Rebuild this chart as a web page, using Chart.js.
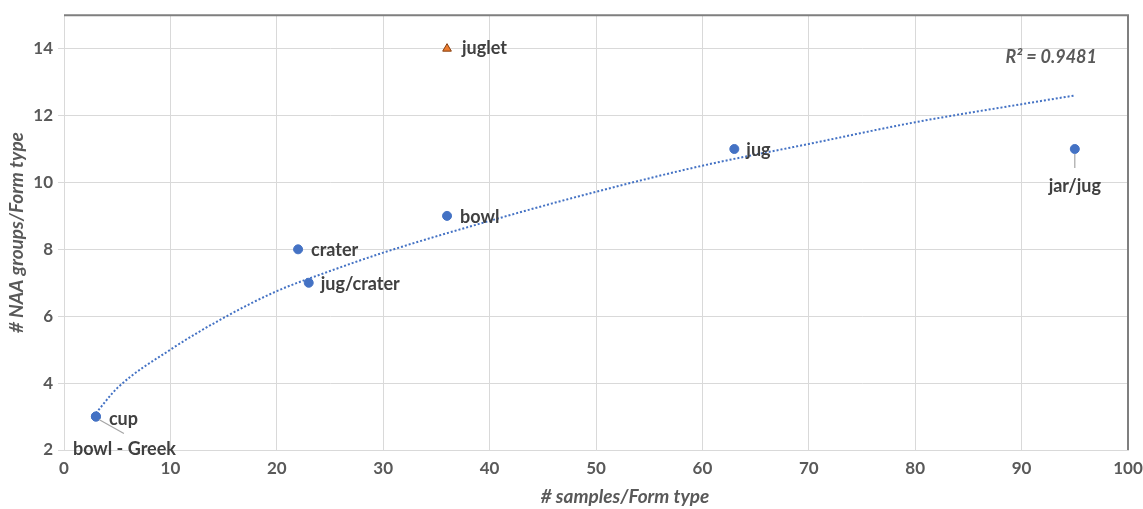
<!DOCTYPE html>
<html>
<head>
<meta charset="utf-8">
<script src="https://cdn.jsdelivr.net/npm/chart.js@4"></script>
<style>
  html, body { margin: 0; padding: 0; background: #fff; }
  #wrap { width: 1143px; height: 509px; }
</style>
</head>
<body>
<div id="wrap"><canvas id="chart"></canvas></div>
<script>
// ====== DATA ======
const formNames = ["cup", "bowl - Greek", "crater", "jug/crater", "bowl", "jug", "jar/jug"];
const samples   = [3, 3, 22, 23, 36, 63, 95];
const naaGroups = [3, 3, 8, 7, 9, 11, 11];

const outlierName = ["juglet"];
const outlierX = [36];
const outlierY = [14];

// trendline (power fit, dotted)
const trendX = [3, 5, 10, 15, 20, 25, 30, 40, 50, 60, 70, 80, 90, 95];
const trendY = [3.1, 3.85, 5.0, 5.95, 6.75, 7.35, 7.9, 8.85, 9.72, 10.5, 11.15, 11.8, 12.34, 12.6];
const rSquared = "R² = 0.9481";
const xTitle = "# samples/Form type";

const xTicks = [0, 10, 20, 30, 40, 50, 60, 70, 80, 90, 100];
const yTicks = [2, 4, 6, 8, 10, 12, 14];

// ====== STYLE ======
const FONT = "Lato, 'Open Sans', sans-serif";
const GRID = "#d9d9d9";
const TEXT = "#595959";
const LABEL = "#404040";
const BLUE = "#4472C4";

// label offsets: [dx, dy, align, leader line]
const placement = {
  "cup": [13, 3, "left"],
  "bowl - Greek": [-23, 33, "left", [3, 3, 28, 17]],
  "crater": [13, 1, "left"],
  "jug/crater": [12, 1, "left"],
  "bowl": [13, 1, "left"],
  "jug": [12, 1, "left"],
  "jar/jug": [0, 37, "center", [0, 5, 0, 19]],
  "juglet": [15, 0, "left"]
};

const labelPlugin = {
  id: "labels",
  afterDatasetsDraw(c) {
    const ctx = c.ctx;
    const xs = c.scales.x, ys = c.scales.y;
    const area = c.chartArea;
    ctx.save();
    ctx.font = "bold 18px " + FONT;
    ctx.fillStyle = LABEL;
    ctx.textBaseline = "middle";
    const draw = (name, vx, vy) => {
      const px = xs.getPixelForValue(vx), py = ys.getPixelForValue(vy);
      const p = placement[name];
      if (p[3]) {
        ctx.strokeStyle = "#a6a6a6";
        ctx.lineWidth = 1.2;
        ctx.beginPath();
        ctx.moveTo(px + p[3][0], py + p[3][1]);
        ctx.lineTo(px + p[3][2], py + p[3][3]);
        ctx.stroke();
      }
      ctx.textAlign = p[2];
      ctx.fillText(name, px + p[0], py + p[1]);
    };
    formNames.forEach((n, i) => draw(n, samples[i], naaGroups[i]));
    outlierName.forEach((n, i) => draw(n, outlierX[i], outlierY[i]));

    // R² text
    ctx.font = "italic bold 18px " + FONT;
    ctx.fillStyle = TEXT;
    ctx.textAlign = "right";
    ctx.fillText(rSquared, area.right - 31, area.top + 42);

    // x axis title (sits a bit right of centre in the original)
    ctx.font = "italic bold 19px " + FONT;
    ctx.textAlign = "center";
    ctx.fillText(xTitle, (area.left + area.right) / 2 + 29, 497);

    // frame top / right
    ctx.strokeStyle = "#7f7f7f";
    ctx.lineWidth = 2;
    ctx.beginPath();
    ctx.moveTo(area.left, area.top);
    ctx.lineTo(area.right, area.top);
    ctx.lineTo(area.right, area.bottom);
    ctx.stroke();
    ctx.restore();
  }
};

// ====== CHART ======
new Chart(document.getElementById("chart"), {
  type: "scatter",
  data: {
    datasets: [
      {
        type: "line",
        label: "trend",
        data: trendX.map((x, i) => ({ x, y: trendY[i] })),
        borderColor: BLUE,
        borderWidth: 2,
        borderDash: [2, 2],
        pointRadius: 0,
        fill: false,
        cubicInterpolationMode: "monotone",
        order: 2
      },
      {
        label: "forms",
        data: samples.map((x, i) => ({ x, y: naaGroups[i] })),
        backgroundColor: BLUE,
        borderColor: BLUE,
        pointRadius: 4.5,
        order: 1
      },
      {
        label: "juglet",
        data: outlierX.map((x, i) => ({ x, y: outlierY[i] })),
        pointStyle: "triangle",
        backgroundColor: "#ED7D31",
        borderColor: "#843C0C",
        borderWidth: 1,
        pointRadius: 5,
        order: 1
      }
    ]
  },
  options: {
    responsive: true,
    maintainAspectRatio: false,
    animation: false,
    layout: { padding: { top: 13, right: 15, left: 0, bottom: 0 } },
    plugins: { legend: { display: false }, tooltip: { enabled: false } },
    scales: {
      x: {
        type: "linear",
        min: 0, max: 100,
        afterBuildTicks: s => { s.ticks = xTicks.map(v => ({ value: v })); },
        afterFit: s => { s.height = 59; s.paddingRight = 0; s.paddingLeft = 0; },
        grid: { color: GRID, drawTicks: false, lineWidth: 1 },
        border: { color: GRID },
        ticks: { color: TEXT, font: { family: FONT, size: 17, weight: "bold" }, padding: 8 },
        title: { display: false }
      },
      y: {
        type: "linear",
        min: 2, max: 15,
        afterBuildTicks: s => { s.ticks = yTicks.map(v => ({ value: v })); },
        afterFit: s => { s.width = 64; },
        grid: { color: GRID, tickLength: 6, lineWidth: 1 },
        border: { color: GRID },
        ticks: { color: TEXT, font: { family: FONT, size: 17, weight: "bold" }, padding: 5 },
        title: {
          display: true, text: "# NAA groups/Form type", color: TEXT,
          font: { family: FONT, size: 19, weight: "bold", style: "italic" }, padding: { top: 5, bottom: 0 }
        }
      }
    }
  },
  plugins: [labelPlugin]
});
</script>
</body>
</html>
